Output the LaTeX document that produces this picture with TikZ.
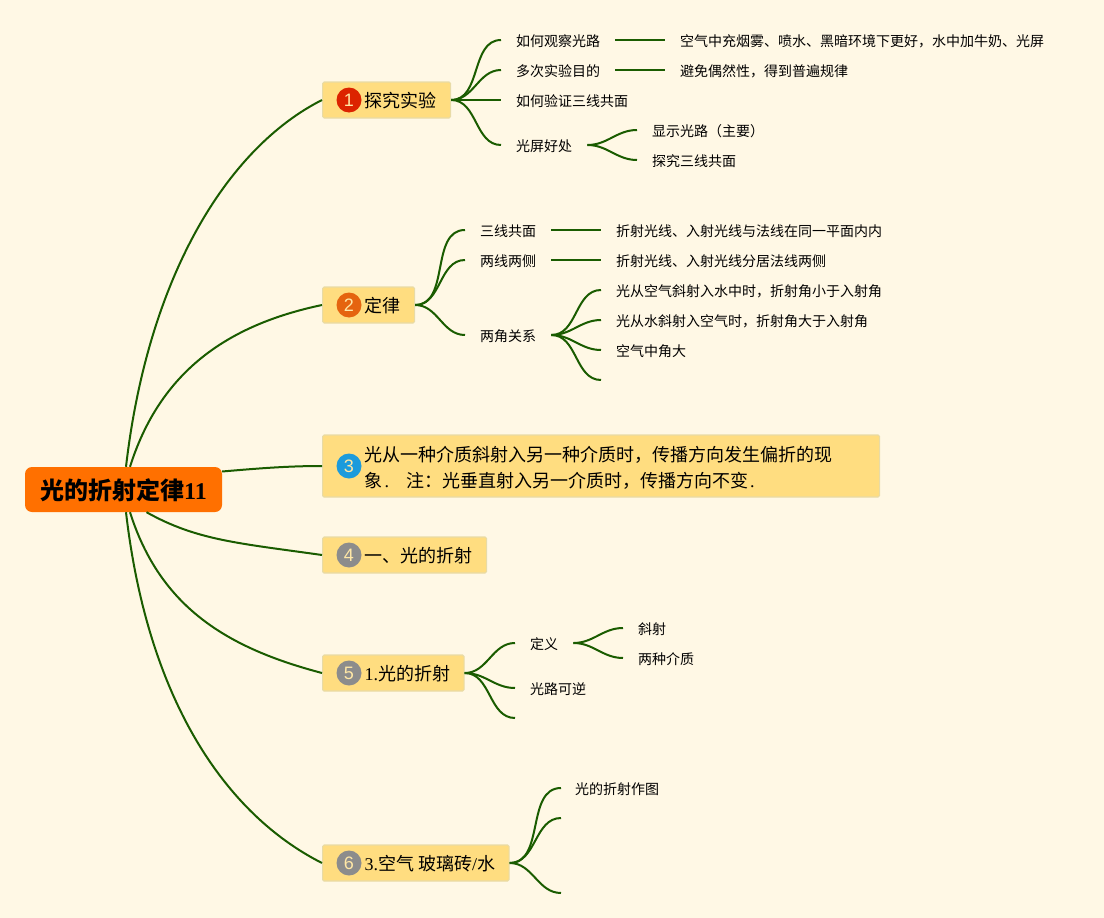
\documentclass[tikz,border=0pt]{standalone}
\usepackage{fontspec}
\usepackage{xcolor}
\setmainfont{Noto Sans CJK SC}
\newfontfamily\latnum{Liberation Serif}
\newfontfamily\dotnum{Liberation Sans}
\usepackage{tikz}
\usetikzlibrary{positioning,calc}
\definecolor{paper}{HTML}{FFF8E5}
\definecolor{topicfill}{HTML}{FFDD80}
\definecolor{topicedge}{HTML}{E8DBA6}
\definecolor{rootfill}{HTML}{FF7000}
\definecolor{branchline}{HTML}{1A5C00}
\definecolor{dotred}{HTML}{DC2300}
\definecolor{dotorange}{HTML}{E5640F}
\definecolor{dotblue}{HTML}{1C9BDC}
\definecolor{dotgray}{HTML}{8C8C8C}

\begin{document}
\begin{tikzpicture}[x=1pt, y=-1pt,
    every node/.style={font=\fontsize{14}{18}\selectfont, text=black},
    root/.style={fill=rootfill, rounded corners=7pt, minimum width=197pt, minimum height=45pt,
      inner sep=0pt, text height=24pt, text depth=3.5pt, font=\fontsize{24}{28}\selectfont\bfseries},
    topic/.style={anchor=west, fill=topicfill, draw=topicedge, line width=1.2pt, rounded corners=1.5pt,
      minimum height=36pt, inner ysep=0pt, inner xsep=14pt, font=\fontsize{18}{26}\selectfont},
    oneline/.style={text height=18pt, text depth=2.4pt},
    leaf/.style={anchor=west, inner xsep=15pt, inner ysep=0pt, minimum height=18pt,
      text height=14pt, text depth=1.4pt},
    numdot/.style={circle, fill=#1, minimum size=25pt, inner sep=0pt, text=topicfill!70!white,
      font=\dotnum\fontsize{18}{18}\selectfont},
    branch/.style={draw=branchline, line width=2pt, out=0, in=180},
    stem/.style={draw=branchline, line width=2pt}]
  \useasboundingbox (0,0) rectangle (1104,918);
  \fill[paper] (0,0) rectangle (1104,918);

  % ---- root and main topics
  \node[root] (root) at (123.5,489.5) {光的折射定律{\latnum 11}};
  \node[topic, oneline] (t1) at (322,100) {\hspace*{28pt}探究实验};
  \node[topic, oneline] (t2) at (322,305) {\hspace*{28pt}定律};
  \node[topic, minimum height=62pt] (t3) at (322,466)
    {\hspace*{28pt}\parbox[c][62pt][c]{468pt}{\vspace{4pt}光从一种介质斜射入另一种介质时，传播方向发生偏折的现\\象\hspace{2pt}{\latnum .}\hspace{17pt}注：光垂直射入另一介质时，传播方向不变\hspace{2pt}{\latnum .}}\hspace*{33pt}};
  \node[topic, oneline] (t4) at (322,555) {\hspace*{28pt}一、光的折射};
  \node[topic, oneline] (t5) at (322,673) {\hspace*{28pt}{\latnum 1.}光的折射};
  \node[topic, oneline] (t6) at (322,863) {\hspace*{28pt}{\latnum 3.}空气 玻璃砖{\latnum /}水};
  % numbered dots inside the topics
  \node[numdot=dotred] (n1) at ($(t1.west)+(27,0)$) {1};
  \node[numdot=dotorange] (n2) at ($(t2.west)+(27,0)$) {2};
  \node[numdot=dotblue] (n3) at ($(t3.west)+(27,0)$) {3};
  \node[numdot=dotgray] (n4) at ($(t4.west)+(27,0)$) {4};
  \node[numdot=dotgray] (n5) at ($(t5.west)+(27,0)$) {5};
  \node[numdot=dotgray] (n6) at ($(t6.west)+(27,0)$) {6};

  % ---- root to topics
  \draw[stem] ([xshift=2.5pt]root.north) .. controls +(22,-190) and +(-95,48) .. (t1.west);
  \draw[stem] ([xshift=6.5pt]root.north) .. controls +(30,-95) and +(-95,20) .. (t2.west);
  \draw[stem] ([yshift=18pt]root.east) .. controls +(35,-3) and +(-35,0) .. (t3.west);
  \draw[stem] ([xshift=23pt]root.south) .. controls +(50,28) and +(-85,-12) .. (t4.west);
  \draw[stem] ([xshift=6.5pt]root.south) .. controls +(30,95) and +(-95,-25) .. (t5.west);
  \draw[stem] ([xshift=2.5pt]root.south) .. controls +(22,190) and +(-95,-48) .. (t6.west);

  % ---- topic 1
  \node[leaf] (a1) at (501,40) {如何观察光路};
  \node[leaf] (a1v) at (665,40) {空气中充烟雾、喷水、黑暗环境下更好，水中加牛奶、光屏};
  \node[leaf] (a2) at (501,70) {多次实验目的};
  \node[leaf] (a2v) at (665,70) {避免偶然性，得到普遍规律};
  \node[leaf] (a3) at (501,100) {如何验证三线共面};
  \node[leaf] (a4) at (501,145) {光屏好处};
  \node[leaf] (a41) at (637,130) {显示光路（主要）};
  \node[leaf] (a42) at (637,160) {探究三线共面};

  % ---- topic 2
  \node[leaf] (b1) at (465,230) {三线共面};
  \node[leaf] (b1v) at (601,230) {折射光线、入射光线与法线在同一平面内内};
  \node[leaf] (b2) at (465,260) {两线两侧};
  \node[leaf] (b2v) at (601,260) {折射光线、入射光线分居法线两侧};
  \node[leaf] (b3) at (465,335) {两角关系};
  \node[leaf] (b31) at (601,290) {光从空气斜射入水中时，折射角小于入射角};
  \node[leaf] (b32) at (601,320) {光从水斜射入空气时，折射角大于入射角};
  \node[leaf] (b33) at (601,350) {空气中角大};
  \coordinate (b34) at (601,380);

  % ---- topic 5
  \node[leaf] (c1) at (515,643) {定义};
  \node[leaf] (c11) at (623,628) {斜射};
  \node[leaf] (c12) at (623,658) {两种介质};
  \node[leaf] (c2) at (515,688) {光路可逆};
  \coordinate (c3) at (515,718);

  % ---- topic 6
  \node[leaf, inner xsep=14pt] (d1) at (561,788) {光的折射作图};
  \coordinate (d2) at (561,818);
  \coordinate (d3) at (561,893);

  % ---- branches
  \foreach \a/\b in {t1/a1,t1/a2,t1/a3,t1/a4,a1/a1v,a2/a2v,a4/a41,a4/a42,
                     t2/b1,t2/b2,t2/b3,b1/b1v,b2/b2v,b3/b31,b3/b32,b3/b33,
                     t5/c1,t5/c2,c1/c11,c1/c12,t6/d1}
    \draw[branch] (\a.east) to (\b.west);
  \foreach \a/\b in {b3/b34,t5/c3,t6/d2,t6/d3}
    \draw[branch] (\a.east) to (\b);
\end{tikzpicture}
\end{document}
